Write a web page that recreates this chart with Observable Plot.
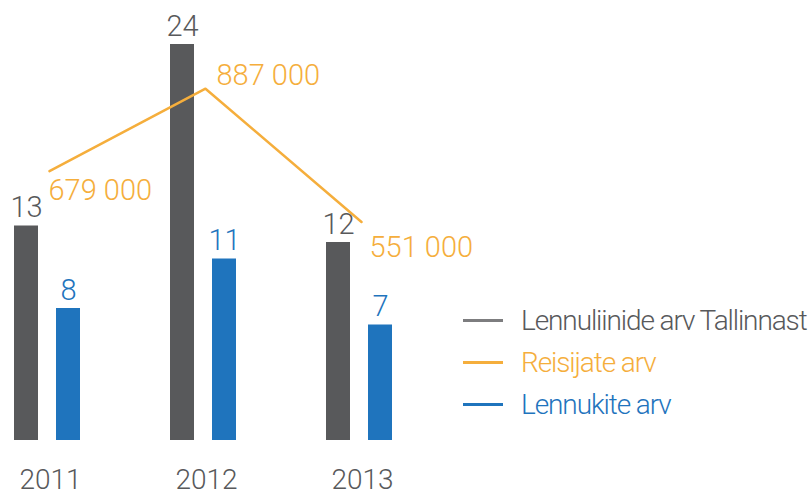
<!DOCTYPE html>
<html>
<head>
<meta charset="utf-8">
<script src="https://cdn.jsdelivr.net/npm/d3@7"></script>
<script src="https://cdn.jsdelivr.net/npm/@observablehq/plot@0.6"></script>
<style>
  html, body { margin: 0; padding: 0; background: #fff; }
  #wrap { position: relative; width: 812px; height: 499px; overflow: hidden; font-family: "Roboto", sans-serif; font-weight: 300; }
  #legend { position: absolute; left: 463px; top: 299px; }
  .item { display: flex; align-items: center; height: 42px; font-size: 28px; white-space: nowrap; letter-spacing: -1.1px; }
  .swatch { width: 40px; height: 3px; margin-right: 18px; flex: none; }
</style>
</head>
<body>
<div id="wrap">
  <div id="chart"></div>
  <div id="legend"></div>
</div>
<script>
const years = ["2011", "2012", "2013"];
const routes = [13, 24, 12];          // Lennuliinide arv Tallinnast
const aircraft = [8, 11, 7];          // Lennukite arv
const passengers = [679000, 887000, 551000]; // Reisijate arv
const passengerLabels = ["679 000", "887 000", "551 000"];

const seriesNames = ["Lennuliinide arv Tallinnast", "Reisijate arv", "Lennukite arv"];
const colors = { gray: "#58595b", orange: "#f5ae3c", blue: "#1f74bd", legendGray: "#7d7d7f" };

const perUnit = 41600; // passengers per bar unit (secondary axis alignment)
const data = years.map((y, i) => ({
  year: y, routes: routes[i], aircraft: aircraft[i],
  pass: passengers[i] / perUnit, passLabel: passengerLabels[i]
}));

const chart = Plot.plot({
  width: 812,
  height: 499,
  marginTop: 0, marginLeft: 0, marginRight: 0, marginBottom: 60,
  style: { fontFamily: "Roboto, sans-serif", fontWeight: 300, background: "transparent" },
  x: { type: "band", domain: years, range: [-32.5, 437.5], paddingInner: 0.8467, paddingOuter: 0.42335, axis: null },
  y: { domain: [0, 24], range: [440, 44], axis: null },
  marks: [
    Plot.barY(data, { x: "year", y: "routes", fill: colors.gray, dx: -21 }),
    Plot.barY(data, { x: "year", y: "aircraft", fill: colors.blue, dx: 21 }),
    Plot.text(data, { x: "year", y: "routes", text: d => String(d.routes), dx: -21, dy: -9, lineAnchor: "bottom", fill: colors.gray, fontSize: 29 }),
    Plot.text(data, { x: "year", y: "aircraft", text: d => String(d.aircraft), dx: 21, dy: -9, lineAnchor: "bottom", fill: colors.blue, fontSize: 29 }),
    Plot.lineY(data, { x: "year", y: "pass", stroke: colors.orange, strokeWidth: 2.5, dx: 2 }),
    Plot.text(data, { filter: d => d.year === "2011", x: "year", y: "pass", text: "passLabel", textAnchor: "start", lineAnchor: "top", dx: 1, dy: 8, fill: colors.orange, fontSize: 29 }),
    Plot.text(data, { filter: d => d.year === "2012", x: "year", y: "pass", text: "passLabel", textAnchor: "start", lineAnchor: "bottom", dx: 13, dy: -4, fill: colors.orange, fontSize: 29 }),
    Plot.text(data, { filter: d => d.year === "2013", x: "year", y: "pass", text: "passLabel", textAnchor: "start", lineAnchor: "top", dx: 10, dy: 14, fill: colors.orange, fontSize: 29 }),
    Plot.axisX({ anchor: "bottom", label: null, tickSize: 0, tickPadding: 30, fontSize: 28, fill: colors.gray, dx: 3 })
  ]
});
document.getElementById("chart").appendChild(chart);

const legendColors = [colors.legendGray, colors.orange, colors.blue];
const textColors = [colors.gray, colors.orange, colors.blue];
const legend = document.getElementById("legend");
seriesNames.forEach((name, i) => {
  const item = document.createElement("div");
  item.className = "item";
  item.innerHTML = `<span class="swatch" style="background:${legendColors[i]}"></span><span style="color:${textColors[i]}">${name}</span>`;
  legend.appendChild(item);
});
</script>
</body>
</html>
